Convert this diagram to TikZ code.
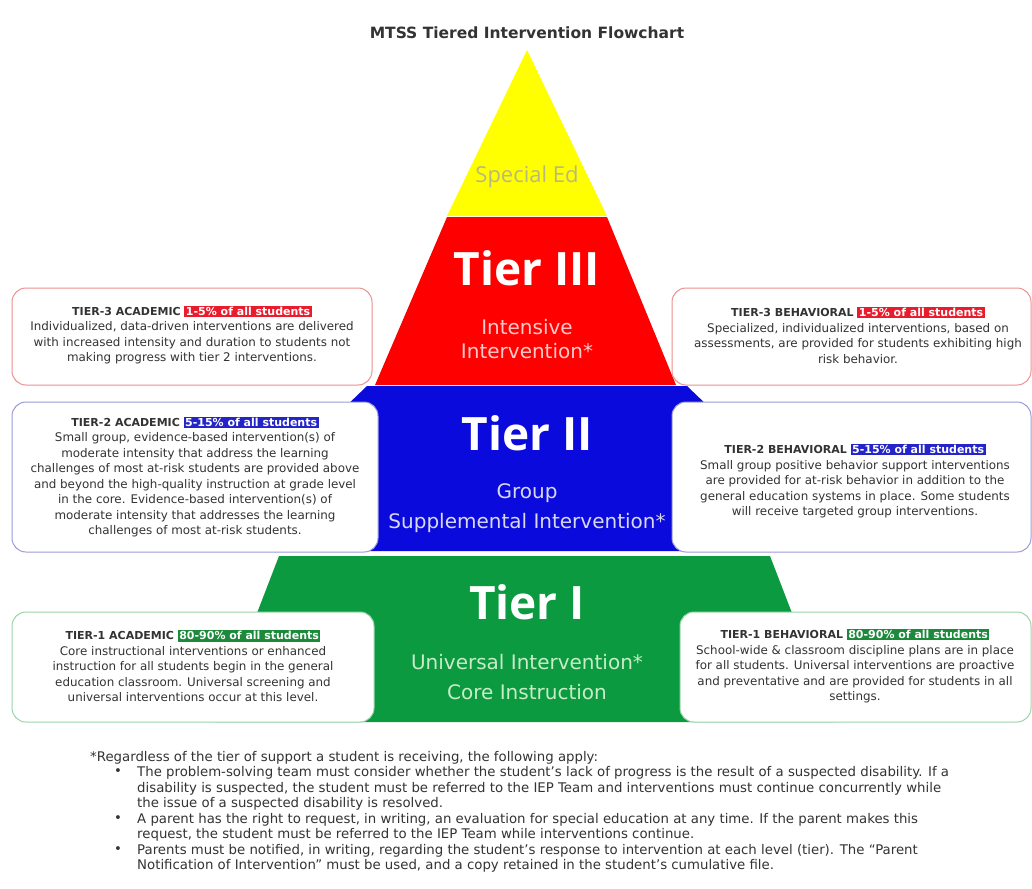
\documentclass[tikz,border=0pt]{standalone}
\usepackage{fontspec}
\setmainfont{DejaVu Sans}
\newfontfamily\tierfont{Open Sans}
\definecolor{pyyellow}{HTML}{FFFF00}
\definecolor{pyred}{HTML}{FF0000}
\definecolor{pyblue}{HTML}{0A0ADC}
\definecolor{pygreen}{HTML}{0B9A40}
\definecolor{bred}{HTML}{EE9090}
\definecolor{bblue}{HTML}{9A9AD8}
\definecolor{bgreen}{HTML}{9AD4A8}
\definecolor{txt}{HTML}{333333}
\definecolor{hlred}{HTML}{E81C2C}
\definecolor{hlblue}{HTML}{2424C8}
\definecolor{hlgreen}{HTML}{1C8A3A}
\definecolor{subred}{HTML}{FFC8C8}
\definecolor{subblue}{HTML}{D8D8F0}
\definecolor{subgreen}{HTML}{C8ECC8}
\definecolor{edgray}{HTML}{B8B880}
\newcommand{\hlbox}[2]{{\setlength{\fboxsep}{1.5pt}\colorbox{#1}{\textcolor{white}{#2}}}}
\newcommand{\hdr}[1]{{\bfseries\fontsize{11}{15.5}\selectfont #1}}
\tikzset{
  infobox/.style={draw=#1, line width=1pt, fill=white, rounded corners=14pt, inner sep=0pt},
  infotext/.style={align=center, text=txt, font=\fontsize{11.9}{15.5}\selectfont, inner sep=0pt},
  tiertitle/.style={text=white, font=\tierfont\bfseries\fontsize{46}{50}\selectfont, inner sep=0pt},
  tiersub/.style={text=#1, font=\fontsize{20}{22}\selectfont, inner sep=0pt},
  note/.style={text=txt, font=\fontsize{13.3}{15.5}\selectfont, align=left, inner sep=0pt},
}
\begin{document}
\begin{tikzpicture}[x=1pt,y=-1pt]
\useasboundingbox[fill=white] (0,0) rectangle (1032,888);
% title
\node[font=\bfseries\fontsize{15.5}{17}\selectfont, text=txt, inner sep=0pt] (title) at (527,33) {MTSS Tiered Intervention Flowchart};
% pyramid
\fill[pyyellow] (527,50) -- (607,216) -- (447,216) -- cycle;
\fill[pyred] (447,217) -- (607,217) -- (676,385) -- (375,385) -- cycle;
\fill[pyblue] (367,386) -- (687,386) -- (712,410) -- (712,551) -- (342,551) -- (342,410) -- cycle;
\fill[pygreen] (279,556) -- (770,556) -- (834,722) -- (215,722) -- cycle;
% boxes
\node[infobox=bred, minimum width=360pt, minimum height=97pt] (b3a) at (192,336.5) {};
\node[infobox=bred, minimum width=359pt, minimum height=97pt] (b3b) at (851.5,336.5) {};
\node[infobox=bblue, minimum width=366pt, minimum height=150pt] (b2a) at (195,477) {};
\node[infobox=bblue, minimum width=359pt, minimum height=150pt] (b2b) at (851.5,477) {};
\node[infobox=bgreen, minimum width=362pt, minimum height=110pt] (b1a) at (193,667) {};
\node[infobox=bgreen, minimum width=351pt, minimum height=110pt] (b1b) at (855.5,667) {};
% pyramid labels
\node[text=edgray, font=\tierfont\fontsize{22}{24}\selectfont, inner sep=0pt] (sped) at (527,177) {Special Ed};
\node[tiertitle] (t3) at (527,268) {Tier III};
\node[tiersub=subred] (t3s1) at (527,327) {Intensive};
\node[tiersub=subred] (t3s2) at (527,351) {Intervention*};
\node[tiertitle] (t2) at (527,433) {Tier II};
\node[tiersub=subblue] (t2s1) at (527,493) {Group};
\node[tiersub=subblue] (t2s2) at (527,523) {Supplemental Intervention*};
\node[tiertitle] (t1) at (527,602) {Tier I};
\node[tiersub=subgreen] (t1s1) at (527,662) {Universal Intervention*};
\node[tiersub=subgreen] (t1s2) at (527,692) {Core Instruction};
% box texts
\node[infotext] (x3a) at (192,335) {\hdr{TIER-3 ACADEMIC} \hlbox{hlred}{\hdr{1-5\% of all students}}\\
Individualized, data-driven interventions are delivered\\
with increased intensity and duration to students not\\
making progress with tier 2 interventions.};
\node[infotext] (x3b) at (858,335) {\hdr{TIER-3 BEHAVIORAL} \hlbox{hlred}{\hdr{1-5\% of all students}}\\
Specialized, individualized interventions, based on\\
assessments, are provided for students exhibiting high\\
risk behavior.};
\node[infotext] (x2a) at (195,477) {\hdr{TIER-2 ACADEMIC} \hlbox{hlblue}{\hdr{5-15\% of all students}}\\
Small group, evidence-based intervention(s) of\\
moderate intensity that address the learning\\
challenges of most at-risk students are provided above\\
and beyond the high-quality instruction at grade level\\
in the core. Evidence-based intervention(s) of\\
moderate intensity that addresses the learning\\
challenges of most at-risk students.};
\node[infotext] (x2b) at (855,481) {\hdr{TIER-2 BEHAVIORAL} \hlbox{hlblue}{\hdr{5-15\% of all students}}\\
Small group positive behavior support interventions\\
are provided for at-risk behavior in addition to the\\
general education systems in place. Some students\\
will receive targeted group interventions.};
\node[infotext] (x1a) at (193,666) {\hdr{TIER-1 ACADEMIC} \hlbox{hlgreen}{\hdr{80-90\% of all students}}\\
Core instructional interventions or enhanced\\
instruction for all students begin in the general\\
education classroom. Universal screening and\\
universal interventions occur at this level.};
\node[infotext] (x1b) at (855,666) {\hdr{TIER-1 BEHAVIORAL} \hlbox{hlgreen}{\hdr{80-90\% of all students}}\\
School-wide \& classroom discipline plans are in place\\
for all students. Universal interventions are proactive\\
and preventative and are provided for students in all\\
settings.};
% footnote
\node[note, anchor=north west] (fn) at (90,751) {*Regardless of the tier of support a student is receiving, the following apply:};
\node[note, anchor=north west] (n1) at (137,766.5) {The problem-solving team must consider whether the student’s lack of progress is the result of a suspected disability. If a\\
disability is suspected, the student must be referred to the IEP Team and interventions must continue concurrently while\\
the issue of a suspected disability is resolved.};
\node[note, anchor=north west] (n2) at (137,813) {A parent has the right to request, in writing, an evaluation for special education at any time. If the parent makes this\\
request, the student must be referred to the IEP Team while interventions continue.};
\node[note, anchor=north west] (n3) at (137,844) {Parents must be notified, in writing, regarding the student’s response to intervention at each level (tier). The “Parent\\
Notification of Intervention” must be used, and a copy retained in the student’s cumulative file.};
\node[note, anchor=north] (d1) at (118,768.5) {•};
\node[note, anchor=north] (d2) at (118,815) {•};
\node[note, anchor=north] (d3) at (118,846) {•};
\end{tikzpicture}
\end{document}
